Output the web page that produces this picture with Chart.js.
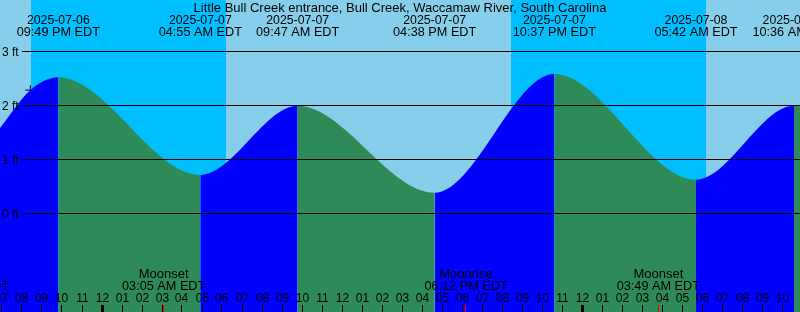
<!DOCTYPE html>
<html>
<head>
<meta charset="utf-8">
<script src="https://cdn.jsdelivr.net/npm/chart.js@4.4.1/dist/chart.umd.min.js"></script>
<style>
  html, body { margin: 0; padding: 0; background: #fff; }
  #wrap { width: 800px; height: 312px; position: relative; }
</style>
</head>
<body>
<div id="wrap"><canvas id="tideChart"></canvas></div>
<script>
const stationName = "Little Bull Creek entrance, Bull Creek, Waccamaw River, South Carolina";

// tide extremes (local time, EDT) and heights in ft
const tideTimes = ["2025-07-06 21:49", "2025-07-07 04:55", "2025-07-07 09:47", "2025-07-07 16:38", "2025-07-07 22:37", "2025-07-08 05:42", "2025-07-08 10:36"];
const tideLevels = [2.52, 0.71, 1.99, 0.38, 2.58, 0.62, 1.99];

// extra readings of the curve between / beyond the extremes
const curveTimes = ["2025-07-06 18:54", "2025-07-06 20:25", "2025-07-08 10:54"];
const curveLevels = [1.58, 2.28, 1.98];

// "+" mark on the curve
const markTime = "2025-07-06 20:25";
const markLevel = 2.28;

const sunsetTimes = ["2025-07-06 20:27", "2025-07-07 20:27"];
const sunriseTimes = ["2025-07-07 06:12", "2025-07-08 06:12"];

const moonTimes = ["2025-07-06 17:17", "2025-07-07 03:05", "2025-07-07 18:12", "2025-07-08 03:49"];
const moonEvents = ["Moonrise", "Moonset", "Moonrise", "Moonset"];

const levelTicks = [0, 1, 2, 3];
const viewStart = "2025-07-06 18:54";
const viewEnd = "2025-07-08 10:54";
const levelMin = -1.83, levelMax = 3.95;

const DAY = "#87CEEB", NIGHT = "#00BFFF", RISING = "#0000FF", FALLING = "#2E8B57";
const FAMILY = '"Liberation Sans", Arial, sans-serif';
const font = px => px + "px " + FAMILY;

const t0 = Date.UTC(2025, 6, 7);
function hrs(s) {
  const [d, hm] = s.split(" ");
  const [Y, M, D] = d.split("-").map(Number);
  const [h, m] = hm.split(":").map(Number);
  return (Date.UTC(Y, M - 1, D, h, m) - t0) / 3600000;
}
function clock(s) {
  let [h, m] = s.split(" ")[1].split(":").map(Number);
  const ap = h >= 12 ? "PM" : "AM";
  h = h % 12 || 12;
  return String(h).padStart(2, "0") + ":" + String(m).padStart(2, "0") + " " + ap + " EDT";
}

const curve = tideTimes.map((t, i) => ({ x: hrs(t), y: tideLevels[i] }))
  .concat(curveTimes.map((t, i) => ({ x: hrs(t), y: curveLevels[i] })))
  .sort((a, b) => a.x - b.x);

const decor = {
  id: "decor",
  beforeDraw(chart) {
    const { ctx, chartArea: a, scales: { x } } = chart;
    ctx.save();
    ctx.fillStyle = DAY;
    ctx.fillRect(a.left, a.top, a.width, a.height);
    ctx.fillStyle = NIGHT;
    sunsetTimes.forEach((s, i) => {
      const x0 = Math.round(x.getPixelForValue(hrs(s)));
      const x1 = Math.round(x.getPixelForValue(hrs(sunriseTimes[i])));
      ctx.fillRect(x0, a.top, x1 - x0, a.height);
    });
    ctx.restore();
  },
  afterDatasetsDraw(chart) {
    const { ctx, chartArea: a, scales: { x, y } } = chart;
    ctx.save();
    ctx.fillStyle = "#000";
    ctx.strokeStyle = "#000";
    ctx.lineWidth = 1;

    // level lines and labels
    ctx.font = font(12);
    ctx.textAlign = "left";
    levelTicks.forEach(v => {
      const py = Math.floor(y.getPixelForValue(v)) + 0.5;
      ctx.beginPath();
      ctx.moveTo(22, py);
      ctx.lineTo(a.right, py);
      ctx.stroke();
      ctx.fillText(v + " ft", 2, py + 4);
    });

    // title and tide event labels
    ctx.textAlign = "center";
    ctx.font = font(13);
    ctx.fillText(stationName, 400, 12);
    tideTimes.forEach(t => {
      const px = x.getPixelForValue(hrs(t));
      ctx.font = font(12.3);
      ctx.fillText(t.split(" ")[0], px, 24);
      ctx.font = font(12.7);
      ctx.fillText(clock(t), px, 36);
    });

    // moon labels
    moonTimes.forEach((t, i) => {
      const px = x.getPixelForValue(hrs(t));
      ctx.font = font(13);
      ctx.fillText(moonEvents[i], px, 278);
      ctx.font = font(12.7);
      ctx.fillText(clock(t), px, 290);
    });

    // hour ticks
    ctx.font = font(12);
    for (let h = Math.ceil(x.min); h <= Math.floor(x.max); h++) {
      const px = Math.floor(x.getPixelForValue(h));
      const hh = ((h % 24) + 24) % 24;
      const lab = String(hh % 12 || 12).padStart(2, "0");
      ctx.fillText(lab, px + 0.5, 302);
      ctx.fillRect(hh === 0 ? px - 1 : px, 305, hh === 0 ? 3 : 1, 7);
    }
    ctx.fillStyle = "#FF0000";
    moonTimes.forEach(t => {
      const px = Math.floor(x.getPixelForValue(hrs(t)));
      ctx.fillRect(px, 305, 1, 7);
    });
    ctx.restore();
  }
};

new Chart(document.getElementById("tideChart"), {
  type: "line",
  data: {
    datasets: [
      {
        data: curve,
        borderWidth: 0,
        pointRadius: 0,
        cubicInterpolationMode: "monotone",
        fill: "start",
        backgroundColor: RISING,
        segment: {
          backgroundColor: c => (c.p1.parsed.y >= c.p0.parsed.y ? RISING : FALLING)
        }
      },
      {
        data: [{ x: hrs(markTime), y: markLevel }],
        showLine: false,
        pointStyle: "cross",
        pointRadius: 5,
        borderColor: "#000",
        borderWidth: 1
      }
    ]
  },
  options: {
    responsive: true,
    maintainAspectRatio: false,
    animation: false,
    layout: { padding: 0, autoPadding: false },
    plugins: { legend: { display: false }, tooltip: { enabled: false } },
    scales: {
      x: { type: "linear", min: hrs(viewStart), max: hrs(viewEnd), display: false },
      y: { min: levelMin, max: levelMax, display: false }
    }
  },
  plugins: [decor]
});
</script>
</body>
</html>
